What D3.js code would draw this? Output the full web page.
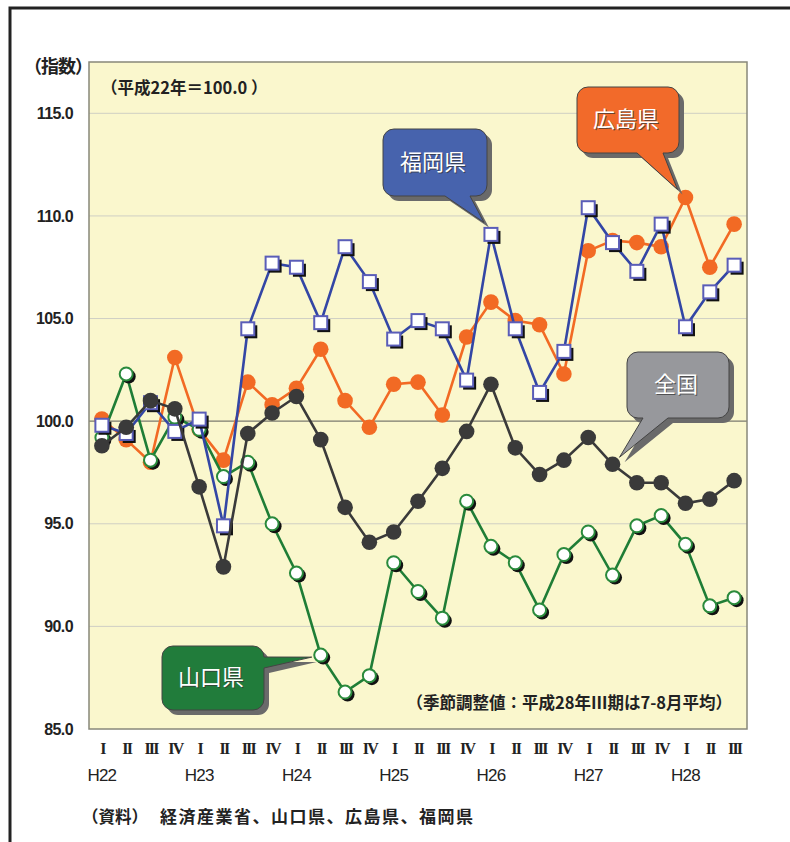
<!DOCTYPE html>
<html>
<head>
<meta charset="utf-8">
<script src="https://cdn.jsdelivr.net/npm/d3@7"></script>
<style>
body { margin: 0; background: #fff; }
svg { display: block; }
</style>
</head>
<body>
<svg></svg>
<script>
// quarters H22 I .. H28 III
var quarterLabels = ["I","II","III","IV","I","II","III","IV","I","II","III","IV","I","II","III","IV",
                     "I","II","III","IV","I","II","III","IV","I","II","III"];
var yearLabels = ["H22","H23","H24","H25","H26","H27","H28"];
var yTicks = [85, 90, 95, 100, 105, 110, 115];

var hiroshima = [100.1, 99.1, 98.0, 103.1, 99.6, 98.1, 101.9, 100.8, 101.6, 103.5, 101.0, 99.7, 101.8, 101.9,
                 100.3, 104.1, 105.8, 104.9, 104.7, 102.3, 108.3, 108.8, 108.7, 108.5, 110.9, 107.5, 109.6];
var yamaguchi = [99.2, 102.3, 98.1, 100.2, 99.6, 97.3, 98.0, 95.0, 92.6, 88.6, 86.8, 87.6, 93.1, 91.7,
                 90.4, 96.1, 93.9, 93.1, 90.8, 93.5, 94.6, 92.5, 94.9, 95.4, 94.0, 91.0, 91.4];
var fukuoka = [99.8, 99.4, 100.9, 99.5, 100.1, 94.9, 104.5, 107.7, 107.5, 104.8, 108.5, 106.8, 104.0, 104.9,
               104.5, 102.0, 109.1, 104.5, 101.4, 103.4, 110.4, 108.7, 107.3, 109.6, 104.6, 106.3, 107.6];
var zenkoku = [98.8, 99.7, 101.0, 100.6, 96.8, 92.9, 99.4, 100.4, 101.2, 99.1, 95.8, 94.1, 94.6, 96.1,
               97.7, 99.5, 101.8, 98.7, 97.4, 98.1, 99.2, 97.9, 97.0, 97.0, 96.0, 96.2, 97.1];

var W = 790, H = 842;
var plot = {left: 89, right: 747, top: 62, bottom: 729};

var svg = d3.select("svg").attr("width", W).attr("height", H);

var idx = d3.range(quarterLabels.length);
var x = d3.scalePoint()
    .domain(idx)
    .range([plot.left, plot.right])
    .padding(0.53);
var y = d3.scaleLinear()
    .domain([85, 117.5])
    .range([plot.bottom, plot.top]);

var jp = "'Noto Sans CJK JP', sans-serif";
var num = "'Liberation Sans', Arial, sans-serif";

// outer frame
svg.append("path")
    .attr("d", "M10," + H + "V8H" + W)
    .attr("fill", "none")
    .attr("stroke", "#222")
    .attr("stroke-width", 3);

// plot background
svg.append("rect")
    .attr("x", plot.left).attr("y", plot.top)
    .attr("width", plot.right - plot.left)
    .attr("height", plot.bottom - plot.top)
    .attr("fill", "#faf7cd");

// gridlines
svg.append("g").selectAll("line")
    .data(yTicks.filter(function(d) { return d != 85; }))
    .enter().append("line")
    .attr("x1", plot.left).attr("x2", plot.right)
    .attr("y1", function(d) { return y(d); })
    .attr("y2", function(d) { return y(d); })
    .attr("stroke", function(d) { return d == 100 ? "#7a7a6e" : "#cfcfc4"; })
    .attr("stroke-width", function(d) { return d == 100 ? 1.3 : 1; });

svg.append("rect")
    .attr("x", plot.left).attr("y", plot.top)
    .attr("width", plot.right - plot.left)
    .attr("height", plot.bottom - plot.top)
    .attr("fill", "none")
    .attr("stroke", "#88887a")
    .attr("stroke-width", 1.5);

// y axis labels
var yAxis = d3.axisLeft(y).tickValues(yTicks).tickSize(0).tickPadding(16)
    .tickFormat(d3.format(".1f"));
var ya = svg.append("g")
    .attr("transform", "translate(" + plot.left + ",0)")
    .call(yAxis);
ya.select(".domain").remove();
ya.selectAll("text")
    .attr("font-family", num)
    .attr("font-weight", "bold")
    .attr("font-size", 16)
    .attr("letter-spacing", -0.6)
    .attr("fill", "#222");

// x axis labels
var xAxis = d3.axisBottom(x).tickSize(0).tickPadding(14)
    .tickFormat(function(i) { return quarterLabels[i]; });
var xa = svg.append("g")
    .attr("transform", "translate(0," + plot.bottom + ")")
    .call(xAxis);
xa.select(".domain").remove();
xa.selectAll("text")
    .attr("font-family", "'Liberation Serif', 'Times New Roman', serif")
    .attr("font-weight", "bold")
    .attr("font-size", 16)
    .attr("letter-spacing", -1.8)
    .attr("fill", "#222");

svg.append("g").selectAll("text")
    .data(yearLabels)
    .enter().append("text")
    .attr("x", function(d, i) { return x(i * 4); })
    .attr("y", 781)
    .attr("text-anchor", "middle")
    .attr("font-family", num)
    .attr("font-size", 17)
    .attr("letter-spacing", -0.8)
    .attr("fill", "#222")
    .text(function(d) { return d; });

// texts
svg.append("text")
    .attr("x", 24).attr("y", 73)
    .attr("font-family", jp).attr("font-weight", "bold").attr("font-size", 18)
    .attr("letter-spacing", -1)
    .attr("fill", "#222")
    .text("（指数）");
svg.append("text")
    .attr("x", 101).attr("y", 94)
    .attr("font-family", jp).attr("font-weight", "bold").attr("font-size", 16.5)
    .attr("fill", "#222")
    .text("（平成22年＝100.0 ）");
svg.append("text")
    .attr("x", 732).attr("y", 709)
    .attr("text-anchor", "end")
    .attr("font-family", jp).attr("font-weight", "bold").attr("font-size", 16.5)
    .attr("fill", "#222")
    .text("（季節調整値：平成28年Ⅲ期は7-8月平均）");
svg.append("text")
    .attr("x", 82).attr("y", 823)
    .attr("font-family", jp).attr("font-weight", "bold").attr("font-size", 16.5)
    .attr("fill", "#222")
    .text("（資料）");
svg.append("text")
    .attr("x", 160).attr("y", 823)
    .attr("font-family", jp).attr("font-weight", "bold").attr("font-size", 17)
    .attr("letter-spacing", 1.5)
    .attr("fill", "#222")
    .text("経済産業省、山口県、広島県、福岡県");

// series
var line = d3.line()
    .x(function(d, i) { return x(i); })
    .y(function(d) { return y(d); });

function drawSeries(data, color, marker) {
    var g = svg.append("g");
    g.append("path")
        .datum(data)
        .attr("d", line)
        .attr("fill", "none")
        .attr("stroke", color)
        .attr("stroke-width", 2.6);
    if (marker == "dot") {
        g.selectAll("circle").data(data).enter().append("circle")
            .attr("cx", function(d, i) { return x(i); })
            .attr("cy", function(d) { return y(d); })
            .attr("r", 7.8)
            .attr("fill", color);
    } else if (marker == "ring") {
        g.selectAll(".sh").data(data).enter().append("circle")
            .attr("cx", function(d, i) { return x(i) + 2.5; })
            .attr("cy", function(d) { return y(d) + 2.5; })
            .attr("r", 7)
            .attr("fill", "#111");
        g.selectAll(".pt").data(data).enter().append("circle")
            .attr("cx", function(d, i) { return x(i); })
            .attr("cy", function(d) { return y(d); })
            .attr("r", 6.5)
            .attr("fill", "#fff")
            .attr("stroke", "#2a8a3c")
            .attr("stroke-width", 2);
    } else if (marker == "square") {
        g.selectAll(".sh").data(data).enter().append("rect")
            .attr("x", function(d, i) { return x(i) - 6.5 + 3; })
            .attr("y", function(d) { return y(d) - 6.5 + 3; })
            .attr("width", 13).attr("height", 13)
            .attr("fill", "#111");
        g.selectAll(".pt").data(data).enter().append("rect")
            .attr("x", function(d, i) { return x(i) - 6.5; })
            .attr("y", function(d) { return y(d) - 6.5; })
            .attr("width", 13).attr("height", 13)
            .attr("fill", "#fff")
            .attr("stroke", "#5a5db8")
            .attr("stroke-width", 2);
    }
}

drawSeries(hiroshima, "#f26a24", "dot");
drawSeries(yamaguchi, "#1f7d36", "ring");
drawSeries(fukuoka, "#3346a5", "square");
drawSeries(zenkoku, "#3a3a3a", "dot");

// callouts
function calloutPath(b, side, a1, a2, tip) {
    var r = 11, x0 = b.x, y0 = b.y, x1 = b.x + b.w, y1 = b.y + b.h;
    var p = "M" + (x0 + r) + "," + y0 + "H" + (x1 - r) +
        "A" + r + "," + r + " 0 0 1 " + x1 + "," + (y0 + r);
    if (side == "right") {
        p += "V" + a1 + "L" + tip[0] + "," + tip[1] + "L" + x1 + "," + a2;
    }
    p += "V" + (y1 - r) + "A" + r + "," + r + " 0 0 1 " + (x1 - r) + "," + y1;
    if (side == "bottom") {
        p += "H" + a2 + "L" + tip[0] + "," + tip[1] + "L" + a1 + "," + y1;
    }
    p += "H" + (x0 + r) + "A" + r + "," + r + " 0 0 1 " + x0 + "," + (y1 - r) +
        "V" + (y0 + r) + "A" + r + "," + r + " 0 0 1 " + (x0 + r) + "," + y0 + "Z";
    return p;
}

function callout(label, color, b, side, a1, a2, tip) {
    var g = svg.append("g");
    var d = calloutPath(b, side, a1, a2, tip);
    g.append("path").attr("d", d)
        .attr("transform", "translate(5,5)")
        .attr("fill", "#6a6a6a");
    g.append("path").attr("d", d)
        .attr("fill", color)
        .attr("stroke", "#444")
        .attr("stroke-width", 1);
    g.append("text")
        .attr("x", b.x + b.w / 2 - 1).attr("y", b.y + b.h / 2 + 8)
        .attr("text-anchor", "middle")
        .attr("font-family", jp).attr("font-size", 22)
        .attr("fill", "#333").attr("opacity", 0.7)
        .text(label);
    g.append("text")
        .attr("x", b.x + b.w / 2 - 2).attr("y", b.y + b.h / 2 + 7)
        .attr("text-anchor", "middle")
        .attr("font-family", jp).attr("font-size", 22)
        .attr("fill", "#fff")
        .text(label);
}

callout("福岡県", "#4763ad", {x: 383, y: 129, w: 104, h: 67}, "bottom", 445, 470,
        [x(16) - 7, y(fukuoka[16]) - 12]);
callout("広島県", "#f26a2a", {x: 577, y: 87, w: 102, h: 66}, "bottom", 637, 663,
        [x(24) - 8, y(hiroshima[24]) - 8]);
callout("全国", "#97989c", {x: 627, y: 352, w: 102, h: 66}, "bottom", 643, 668,
        [x(21) + 7, y(zenkoku[21]) - 7]);
callout("山口県", "#217c3b", {x: 162, y: 646, w: 102, h: 64}, "right", 657, 668,
        [x(9) - 9, y(yamaguchi[9]) + 2]);
</script>
</body>
</html>
